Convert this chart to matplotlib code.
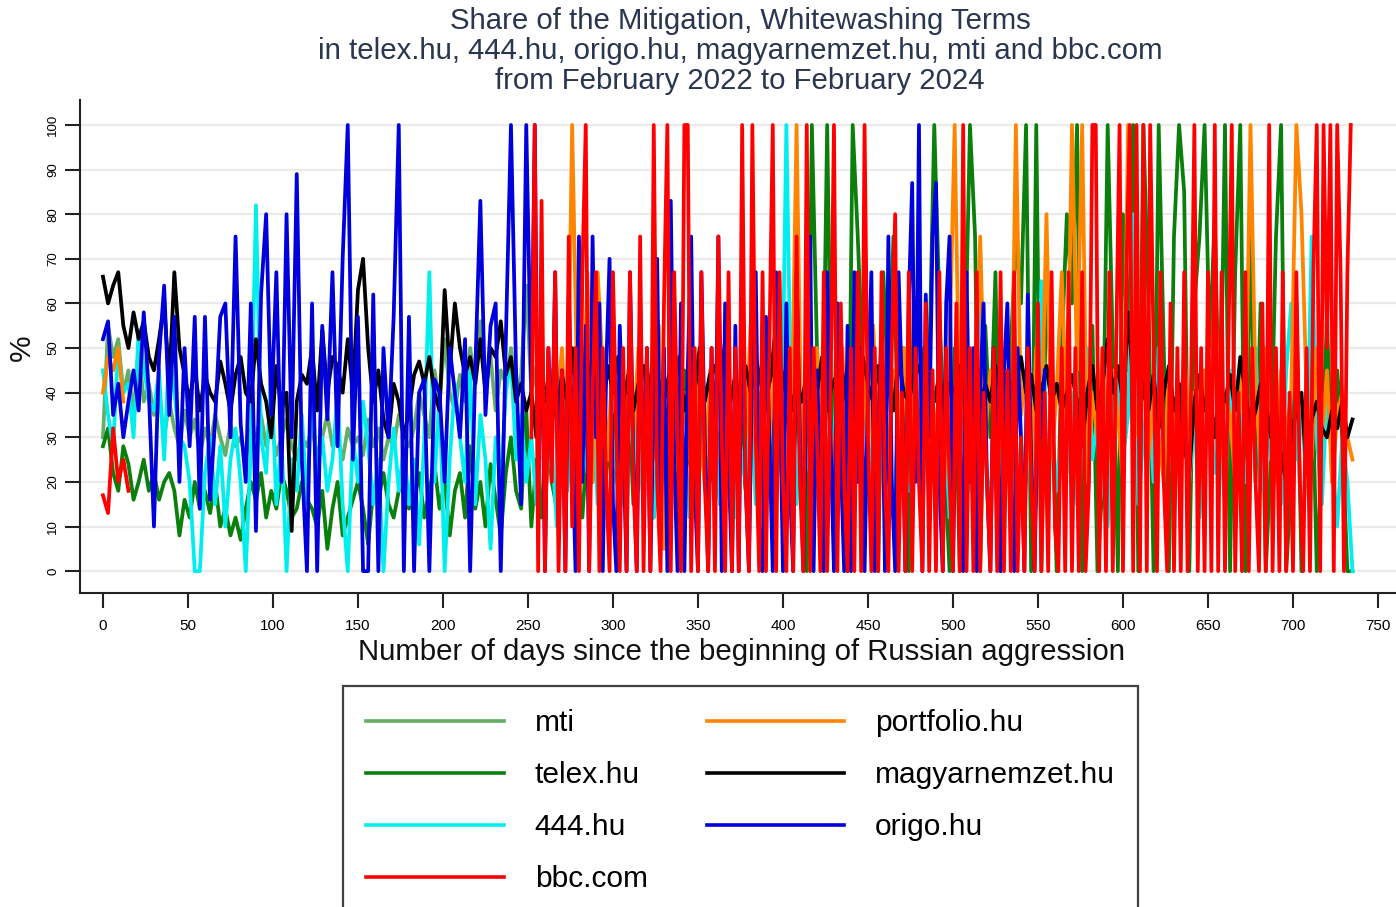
import numpy as np
import matplotlib
matplotlib.use("Agg")
import matplotlib.pyplot as plt
from matplotlib.lines import Line2D

plt.rcParams['font.family'] = ['Liberation Sans', 'DejaVu Sans']

# ---------------- data ----------------
# each piece: first day, step in days, values
mti_start, mti_step = 0, 3
mti = [30, 55, 48, 52, 40, 45, 35, 50, 38, 42,
       35, 40, 30, 38, 32, 28, 36, 30, 34, 26,
       32, 28, 35, 30, 26, 33, 28, 30, 25, 32,
       30, 35, 28, 32, 26, 30, 34, 28, 25, 30,
       28, 32, 26, 30, 35, 28, 30, 25, 32, 28,
       30, 26, 34, 28, 32, 25, 30, 28, 35, 30,
       28, 32, 40, 35, 30, 45, 38, 52, 40, 36,
       44, 38, 50, 42, 56, 40, 48, 36, 45, 42,
       50, 38, 44, 64, 40, 46, 35, 42]

telex_start, telex_step = 0, 3
telex = [28, 32, 22, 18, 28, 24, 16, 20, 25, 18,
         22, 16, 20, 22, 18, 8, 16, 12, 20, 14,
         18, 13, 20, 10, 14, 8, 12, 7, 14, 20,
         16, 22, 12, 18, 14, 22, 18, 12, 14, 20,
         16, 14, 10, 18, 5, 14, 20, 8, 12, 16,
         20, 14, 6, 18, 16, 22, 15, 12, 18, 20,
         14, 16, 22, 12, 18, 24, 14, 20, 8, 18,
         22, 12, 28, 14, 20, 10, 24, 16, 8, 22,
         30, 18, 14, 36, 10, 25, 12, 35, 20, 14,
         28, 18, 40, 22, 12, 30, 20, 45, 15, 25,
         35, 18, 28, 42, 15, 30, 22, 38, 12, 26,
         40, 20, 32, 15, 45, 25, 18, 36, 28, 20,
         30, 15, 42, 25, 20, 35, 18, 28, 40, 22,
         30, 18, 45, 25, 60, 40, 35, 20, 0, 100,
         50, 20, 100, 20, 60, 40, 0, 100, 75, 45,
         30, 55, 0, 67, 40, 75, 25, 50, 0, 60,
         20, 50, 45, 100, 60, 25, 0, 50, 0, 45,
         100, 75, 0, 55, 30, 67, 0, 25, 50, 75,
         60, 100, 0, 100, 0, 67, 40, 0, 50, 80,
         60, 100, 0, 30, 55, 0, 20, 100, 50, 0,
         80, 45, 100, 0, 100, 60, 0, 100, 50, 0,
         75, 100, 85, 0, 60, 75, 100, 50, 80, 25,
         100, 0, 67, 100, 0, 80, 20, 60, 0, 25,
         75, 100, 0, 20, 60, 0, 30, 50, 0, 25,
         57, 20, 45, 30, 0, 0]

t444_start, t444_step = 0, 3
t444 = [45, 35, 28, 50, 40, 42, 30, 54, 46, 38,
        36, 45, 25, 50, 40, 30, 28, 20, 0, 0,
        22, 30, 15, 28, 10, 25, 32, 20, 0, 28,
        82, 30, 22, 45, 15, 30, 0, 25, 18, 35,
        15, 40, 22, 30, 18, 25, 40, 15, 0, 30,
        20, 38, 28, 15, 25, 0, 20, 32, 18, 28,
        15, 25, 6, 30, 67, 20, 40, 0, 25, 42,
        30, 20, 45, 15, 35, 25, 5, 30, 20, 40,
        48, 25, 35, 20, 30, 15, 40, 22, 28, 10,
        25, 18, 35, 12, 30, 22, 40, 15, 25, 30,
        20, 35, 15, 28, 40, 18, 30, 22, 12, 35,
        25, 15, 38, 20, 30, 12, 28, 45, 18, 25,
        30, 15, 22, 35, 12, 28, 20, 40, 15, 30,
        25, 18, 35, 22, 100, 30, 15, 40, 25, 20,
        35, 12, 30, 22, 45, 18, 28, 15, 35, 25,
        20, 30, 15, 40, 22, 12, 35, 25, 18, 30,
        25, 40, 15, 30, 20, 35, 12, 28, 22, 40,
        18, 30, 72, 25, 15, 35, 20, 45, 28, 12,
        30, 20, 40, 15, 65, 25, 35, 18, 30, 22,
        40, 15, 30, 50, 25, 35, 20, 10, 30, 45,
        25, 35, 80, 15, 30, 40, 20, 50, 25, 35,
        18, 30, 45, 20, 35, 12, 28, 40, 22, 30,
        15, 45, 25, 35, 20, 30, 50, 18, 40, 25,
        30, 15, 45, 60, 25, 35, 20, 75, 30, 15,
        40, 25, 10, 30, 20, 0]

bbc_early_start, bbc_early_step = 0, 3
bbc_early = [17, 13, 32, 20, 25, 18]

bbc_start, bbc_step = 252, 2
bbc = [30, 100, 0, 83, 0, 50, 20, 67, 0, 45,
       0, 75, 10, 50, 0, 67, 100, 0, 40, 67,
       0, 50, 20, 0, 67, 30, 0, 50, 0, 67,
       20, 0, 75, 0, 50, 0, 100, 20, 0, 60,
       100, 0, 67, 30, 0, 100, 100, 0, 50, 0,
       67, 20, 0, 50, 0, 75, 30, 0, 67, 0,
       50, 0, 100, 20, 0, 100, 30, 0, 67, 0,
       50, 100, 0, 67, 20, 0, 50, 0, 75, 20,
       0, 100, 0, 50, 30, 0, 67, 0, 40, 100,
       0, 60, 20, 0, 50, 0, 67, 0, 100, 30,
       0, 50, 0, 67, 20, 0, 50, 80, 0, 40,
       0, 67, 0, 50, 20, 0, 60, 0, 45, 0,
       67, 0, 50, 20, 0, 60, 0, 100, 0, 50,
       0, 67, 0, 40, 20, 0, 50, 0, 67, 0,
       45, 0, 67, 0, 30, 0, 50, 20, 0, 60,
       0, 40, 0, 67, 10, 0, 50, 0, 67, 0,
       50, 0, 67, 0, 20, 100, 100, 0, 50, 0,
       67, 0, 50, 100, 0, 67, 100, 0, 100, 0,
       100, 0, 100, 50, 0, 67, 20, 0, 60, 0,
       50, 0, 67, 0, 40, 100, 0, 50, 0, 67,
       0, 100, 0, 67, 0, 50, 100, 0, 40, 0,
       67, 0, 50, 20, 0, 60, 0, 100, 0, 50,
       0, 67, 0, 40, 0, 67, 20, 0, 50, 0,
       67, 100, 0, 100, 50, 100, 0, 100, 67, 0,
       67, 100]

portfolio_early_start, portfolio_early_step = 0, 3
portfolio_early = [40, 48, 45, 50, 38]

portfolio_start, portfolio_step = 252, 3
portfolio = [40, 30, 55, 20, 45, 35, 50, 25, 100, 40,
             30, 67, 20, 67, 45, 25, 50, 35, 20, 45,
             30, 50, 20, 40, 25, 55, 5, 35, 45, 20,
             40, 25, 50, 30, 20, 45, 35, 25, 50, 30,
             20, 45, 30, 55, 25, 40, 20, 35, 50, 25,
             40, 30, 100, 25, 45, 20, 50, 30, 40, 25,
             35, 50, 20, 40, 30, 45, 25, 55, 30, 40,
             25, 45, 30, 50, 20, 40, 35, 25, 45, 30,
             40, 20, 50, 100, 30, 45, 25, 40, 75, 30,
             45, 25, 40, 30, 20, 100, 35, 45, 20, 50,
             30, 80, 25, 40, 67, 30, 100, 45, 100, 20,
             40, 30, 50, 25, 45, 35, 20, 100, 40, 30,
             50, 25, 40, 30, 20, 45, 35, 25, 50, 30,
             40, 20, 45, 30, 67, 25, 40, 35, 20, 45,
             30, 100, 40, 25, 50, 35, 20, 45, 30, 40,
             100, 80, 40, 25, 50, 30, 45, 20, 35, 40,
             30, 25]

magyar_start, magyar_step = 0, 3
magyar = [66, 60, 64, 67, 55, 50, 58, 52, 56, 48,
          45, 52, 60, 42, 67, 50, 44, 38, 46, 36,
          44, 40, 38, 47, 42, 36, 44, 48, 40, 38,
          52, 42, 38, 30, 46, 36, 40, 9, 38, 44,
          42, 50, 36, 54, 40, 48, 46, 40, 52, 40,
          63, 70, 50, 38, 45, 34, 30, 42, 38, 30,
          36, 44, 47, 42, 48, 40, 36, 63, 45, 60,
          50, 44, 48, 42, 52, 40, 50, 48, 56, 44,
          48, 38, 42, 36, 40, 30, 44, 38, 40, 34,
          44, 38, 50, 36, 44, 40, 48, 54, 36, 46,
          40, 48, 38, 44, 36, 42, 46, 38, 50, 42,
          38, 44, 40, 48, 36, 42, 40, 50, 38, 44,
          46, 40, 52, 38, 44, 36, 46, 40, 48, 42,
          38, 44, 56, 40, 46, 36, 42, 38, 44, 46,
          40, 48, 36, 42, 44, 38, 46, 40, 36, 48,
          42, 38, 46, 40, 44, 36, 48, 40, 38, 44,
          46, 40, 42, 38, 44, 36, 42, 40, 46, 38,
          44, 40, 36, 42, 38, 46, 40, 44, 36, 42,
          48, 40, 44, 36, 40, 46, 38, 42, 36, 40,
          44, 38, 28, 40, 46, 36, 42, 52, 40, 46,
          38, 58, 42, 48, 40, 36, 44, 32, 40, 46,
          36, 42, 28, 22, 38, 44, 36, 40, 30, 42,
          38, 44, 36, 48, 40, 32, 36, 42, 38, 30,
          36, 26, 20, 30, 36, 40, 22, 34, 38, 32,
          30, 36, 32, 38, 30, 34]

origo_a_start, origo_a_step = 0, 3
origo_a = [52, 56, 35, 42, 30, 38, 45, 36, 58, 40,
           10, 48, 64, 35, 57, 20, 50, 28, 57, 14,
           57, 16, 34, 57, 60, 30, 75, 33, 20, 60,
           9, 62, 80, 35, 67, 20, 80, 30, 89, 25,
           0, 60, 0, 55, 34, 67, 28, 70, 100, 25,
           57, 0, 0, 62, 0, 50, 30, 57, 100, 0,
           57, 0, 40, 43, 0, 43, 40, 20, 50, 40,
           30, 52, 0, 45, 83, 35, 55, 60, 0, 52,
           100, 45, 15, 100]

origo_b_start, origo_b_step = 252, 2
origo_b = [40, 100, 20, 60, 0, 50, 25, 67, 10, 45,
           0, 62, 30, 0, 75, 20, 55, 0, 75, 30,
           60, 0, 45, 70, 15, 0, 55, 30, 0, 67,
           25, 0, 60, 20, 50, 0, 40, 70, 10, 50,
           0, 83, 25, 0, 60, 0, 45, 75, 20, 0,
           67, 30, 0, 50, 20, 75, 0, 60, 25, 0,
           55, 0, 67, 20, 0, 50, 67, 10, 0, 57,
           30, 0, 67, 45, 0, 60, 20, 0, 67, 30,
           0, 50, 75, 0, 45, 20, 0, 67, 30, 0,
           60, 25, 0, 55, 0, 67, 20, 50, 0, 40,
           67, 0, 30, 55, 0, 75, 20, 0, 67, 40,
           0, 60, 87, 20, 100, 0, 62, 30, 75, 87,
           20, 0, 60, 75, 0, 50, 30, 0, 67, 20,
           50, 0, 40, 60, 20, 0, 50, 30, 0, 45,
           60, 20, 0, 50, 30, 0, 62, 25, 0, 40,
           30, 45]

labels = ["mti", "telex.hu", "444.hu", "bbc.com", "portfolio.hu", "magyarnemzet.hu", "origo.hu"]
colors = {"mti": "#66ad66", "telex.hu": "#0b7f0b", "444.hu": "#00eeee", "bbc.com": "#ff0000",
          "portfolio.hu": "#ff8400", "magyarnemzet.hu": "#000000", "origo.hu": "#0000dd"}

title_lines = ["Share of the Mitigation, Whitewashing Terms",
               "in telex.hu, 444.hu, origo.hu, magyarnemzet.hu, mti and bbc.com",
               "from February 2022 to February 2024"]
xlabel = "Number of days since the beginning of Russian aggression"
xticks = list(range(0, 751, 50))
yticks = list(range(0, 101, 10))


def days(start, step, vals):
    return start + step * np.arange(len(vals))


# ---------------- figure ----------------
W, H = 1396, 907
fig = plt.figure(figsize=(W / 100, H / 100), dpi=100)
ax = fig.add_axes([80 / W, 1 - 593 / H, 1 - 80 / W, (593 - 100) / H])
ax.set_xlim(-13.5, 760.6)
ax.set_ylim(-4.9, 105.6)

for yv in yticks:
    ax.axhline(yv, color="#ebebeb", lw=1.6, zorder=0)

lw = 2.7
# (name, list of pieces, zorder, join pieces into one line?)
series = [
    ("mti", [(mti_start, mti_step, mti)], 1, False),
    ("telex.hu", [(telex_start, telex_step, telex)], 2, False),
    ("444.hu", [(t444_start, t444_step, t444)], 3, False),
    ("portfolio.hu", [(portfolio_early_start, portfolio_early_step, portfolio_early),
                      (portfolio_start, portfolio_step, portfolio)], 4, False),
    ("magyarnemzet.hu", [(magyar_start, magyar_step, magyar)], 5, False),
    ("origo.hu", [(origo_a_start, origo_a_step, origo_a),
                  (origo_b_start, origo_b_step, origo_b)], 6, True),
    ("bbc.com", [(bbc_early_start, bbc_early_step, bbc_early), (bbc_start, bbc_step, bbc)], 7, False),
]
for name, parts, z, join in series:
    if join:
        xs = np.concatenate([days(st, sp, v) for st, sp, v in parts])
        ys = np.concatenate([np.asarray(v, float) for st, sp, v in parts])
        ax.plot(xs, ys, color=colors[name], lw=lw, zorder=z)
    else:
        for st, sp, vals in parts:
            ax.plot(days(st, sp, vals), vals, color=colors[name], lw=lw, zorder=z)

for s in ["top", "right"]:
    ax.spines[s].set_visible(False)
for s in ["left", "bottom"]:
    ax.spines[s].set_linewidth(1.5)
    ax.spines[s].set_color("#222222")

ax.set_xticks(xticks)
ax.set_xticklabels([str(v) for v in xticks], fontsize=11)
ax.set_yticks(yticks)
ax.set_yticklabels([str(v) for v in yticks], fontsize=9.5, rotation=90, va="center")
ax.tick_params(axis="both", direction="out", length=10.5, width=1.5, color="#222222")
ax.tick_params(axis="x", pad=8.5)
ax.tick_params(axis="y", pad=4.5)

fig.text(22 / W, 1 - 348 / H, "%", rotation=90, fontsize=21.5, ha="center", va="center", color="#111111")
fig.text(741 / W, 1 - 652 / H, xlabel, fontsize=21.2, ha="center", va="center", color="#111111")

title_color = "#2a3650"
for i, t in enumerate(title_lines):
    fig.text(740 / W, 1 - (21 + 30 * i) / H, t, fontsize=21.2, ha="center", va="center", color=title_color)

handles = [Line2D([], [], color=colors[n], lw=2.6) for n in labels]
leg = fig.legend(handles, labels, loc="upper left", bbox_to_anchor=(343 / W, 1 - 686 / H),
                 ncol=2, fontsize=21.5, frameon=True, fancybox=False, edgecolor="#111111",
                 handlelength=4.6, handletextpad=1.04, columnspacing=1.97, labelspacing=0.8,
                 borderpad=0.78, borderaxespad=0)
leg.get_frame().set_linewidth(1.6)

fig.savefig("out.png", dpi=100)
